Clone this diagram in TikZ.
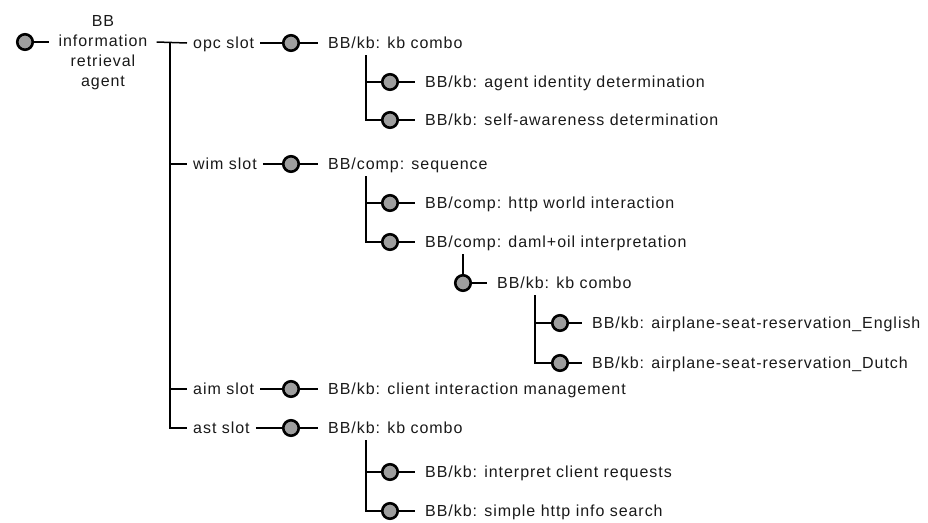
\documentclass[tikz,border=0pt]{standalone}
\usepackage{fontspec}
\setmainfont{Liberation Sans}[LetterSpace=6]
\begin{document}
\begin{tikzpicture}[
  x=1pt, y=-1pt,
  every node/.style={font=\fontsize{16pt}{20pt}\selectfont, text=black!90},
  bead/.style={circle, draw=black, line width=2.6pt, fill=black!38,
               minimum size=15.5pt, inner sep=0pt},
  lbl/.style={anchor=west, inner xsep=0pt, inner ysep=2pt,
              text height=11.5pt, text depth=0pt},
  slotlbl/.style={lbl, inner xsep=6pt},
  rootlbl/.style={align=center, inner xsep=9pt},
  wire/.style={draw=black, line width=1.5pt},
  tolabel/.style={wire, shorten >=10pt},
]
\useasboundingbox (0,0) rectangle (928,522);

% root of the tree
\node[bead] (c0) at (25,42) {};
\node[rootlbl] (r) at (103,53) {BB\\information\\retrieval\\agent};
\coordinate (trunk) at (170,43);

% slot labels
\node[slotlbl] (opc) at (187,43)  {opc slot};
\node[slotlbl] (wim) at (187,164) {wim slot};
\node[slotlbl] (aim) at (187,389) {aim slot};
\node[slotlbl] (ast) at (187,428) {ast slot};

% opc slot branch
\node[bead] (c1)  at (291,43)  {};
\node[lbl]  (k1)  at (328,43)  {BB/kb: kb combo};
\node[bead] (c11) at (390,82)  {};
\node[lbl]  (k11) at (425,82)  {BB/kb: agent identity determination};
\node[bead] (c12) at (390,120) {};
\node[lbl]  (k12) at (425,120) {BB/kb: self-awareness determination};

% wim slot branch
\node[bead] (c2)   at (291,164) {};
\node[lbl]  (k2)   at (328,164) {BB/comp: sequence};
\node[bead] (c21)  at (390,203) {};
\node[lbl]  (k21)  at (425,203) {BB/comp: http world interaction};
\node[bead] (c22)  at (390,242) {};
\node[lbl]  (k22)  at (425,242) {BB/comp: daml+oil interpretation};
\node[bead] (c221) at (463,283) {};
\node[lbl]  (k221) at (497,283) {BB/kb: kb combo};
\node[bead] (c2211) at (560,323) {};
\node[lbl]  (k2211) at (592,323) {BB/kb: airplane-seat-reservation\_English};
\node[bead] (c2212) at (560,363) {};
\node[lbl]  (k2212) at (592,363) {BB/kb: airplane-seat-reservation\_Dutch};

% aim slot branch
\node[bead] (c3) at (291,389) {};
\node[lbl]  (k3) at (328,389) {BB/kb: client interaction management};

% ast slot branch
\node[bead] (c4)  at (291,428) {};
\node[lbl]  (k4)  at (328,428) {BB/kb: kb combo};
\node[bead] (c41) at (390,472) {};
\node[lbl]  (k41) at (425,472) {BB/kb: interpret client requests};
\node[bead] (c42) at (390,511) {};
\node[lbl]  (k42) at (425,511) {BB/kb: simple http info search};

% root connectors and trunk
\draw[wire] (c0) -- (c0 -| r.west);
\draw[wire] (r.east |- c0) -- (opc.west);
\draw[wire] (trunk) |- (ast.west);
\draw[wire] (trunk |- wim.west) -- (wim.west);
\draw[wire] (trunk |- aim.west) -- (aim.west);

% slot to building block
\foreach \s/\c/\k in {opc/c1/k1, wim/c2/k2, aim/c3/k3, ast/c4/k4}{
  \draw[wire] (\s) -- (\c);
  \draw[tolabel] (\c) -- (\k);
}

% sub-components: vertical drop from the parent label, then a tick
\foreach \p/\a/\b in {k1/c11/c12, k2/c21/c22, k221/c2211/c2212, k4/c41/c42}{
  \draw[wire] ([xshift=38pt,yshift=-12pt]\p.west) |- (\a);
  \draw[wire] ([xshift=38pt,yshift=-12pt]\p.west) |- (\b);
}
\foreach \c/\k in {c11/k11, c12/k12, c21/k21, c22/k22, c221/k221,
                   c2211/k2211, c2212/k2212, c41/k41, c42/k42}{
  \draw[tolabel] (\c) -- (\k);
}

% nested combo hangs straight below its parent
\draw[wire] ([xshift=38pt,yshift=-12pt]k22.west) -- (c221);
\end{tikzpicture}
\end{document}
